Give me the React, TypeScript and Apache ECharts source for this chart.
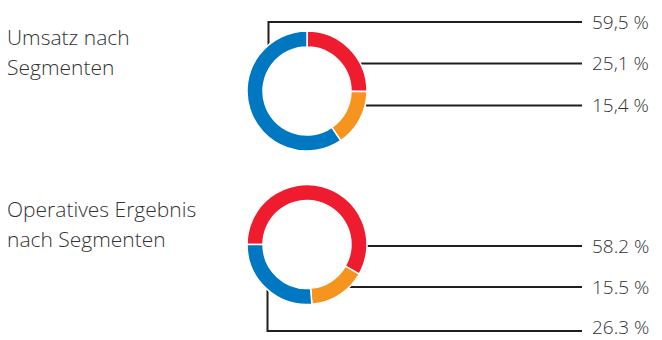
import React, { useEffect, useRef } from "react";
import * as echarts from "echarts";

// ---- data ----
const segmentNames = ["Segment 1", "Segment 2", "Segment 3"];
const segmentColors = ["#EE1C2E", "#F7941D", "#0077C1"];
const umsatzValues = [25.1, 15.4, 59.5];
const ergebnisValues = [58.2, 15.5, 26.3];
const chartTitles = ["Umsatz nach\nSegmenten", "Operatives Ergebnis\nnach Segmenten"];

// ---- layout ----
const CX = 307;
const CENTERS_Y = [91, 244.5];
const R_IN = 44;
const R_OUT = 60;
const LINE_END_X = 582;
const LABEL_X = 592;
const TEXT_COLOR = "#333333";
const FONT = "'Open Sans', 'DejaVu Sans', sans-serif";

// label line y levels per series / data index, and elbow x for lines leaving the left side
const guideY = [
  [63.5, 105.5, 22],
  [246, 287, 331],
];
const guideElbowX = [
  [null, null, 268.5],
  [null, null, 267.5],
];

function guidePoints(si: number, di: number): number[][] {
  const cy = CENTERS_Y[si];
  const y = guideY[si][di];
  const ex = guideElbowX[si][di];
  if (ex != null) {
    const dx = ex - CX;
    const dyAbs = Math.sqrt(Math.max(0, R_OUT * R_OUT - dx * dx));
    const sy = y < cy ? cy - dyAbs : cy + dyAbs;
    return [
      [ex, sy],
      [ex, y],
      [LINE_END_X, y],
    ];
  }
  const dy = y - cy;
  const sx = CX + Math.sqrt(Math.max(0, R_OUT * R_OUT - dy * dy));
  return [
    [sx, y],
    [(sx + LINE_END_X) / 2, y],
    [LINE_END_X, y],
  ];
}

function buildSeries(values: number[], si: number, startAngle: number, decimalComma: boolean) {
  return {
    type: "pie",
    center: [CX, CENTERS_Y[si]],
    radius: [R_IN, R_OUT],
    startAngle,
    clockwise: true,
    avoidLabelOverlap: false,
    silent: true,
    itemStyle: { borderColor: "#ffffff", borderWidth: 1.5 },
    data: values.map((v, i) => ({
      name: segmentNames[i],
      value: v,
      itemStyle: { color: segmentColors[i] },
    })),
    label: {
      show: true,
      position: "outside",
      formatter: (p: any) => {
        const s = Number(p.value).toFixed(1);
        return (decimalComma ? s.replace(".", ",") : s) + " %";
      },
      fontFamily: FONT,
      fontSize: 19,
      fontWeight: 300,
      lineHeight: 16,
      color: TEXT_COLOR,
    },
    labelLine: {
      show: true,
      length: 10,
      length2: 10,
      smooth: false,
      lineStyle: { color: "#1f1f1f", width: 2 },
    },
    labelLayout: (params: any) => {
      const di = params.dataIndex;
      const pts = guidePoints(si, di);
      const y = Math.min(guideY[si][di] - 0.5, 327);
      return {
        x: LABEL_X,
        y,
        align: "left",
        verticalAlign: "middle",
        labelLinePoints: pts,
      };
    },
  };
}

const titleStyle = {
  fontFamily: FONT,
  fontSize: 21,
  fontWeight: 300,
  color: TEXT_COLOR,
  lineHeight: 30,
};

export default function App() {
  const ref = useRef<HTMLDivElement>(null);
  useEffect(() => {
    if (!ref.current) return;
    const chart = echarts.init(ref.current, undefined, { renderer: "svg" });
    chart.setOption({
      animation: false,
      backgroundColor: "#ffffff",
      title: [
        { text: chartTitles[0], left: 7, top: 21.5, padding: 0, textStyle: titleStyle },
        { text: chartTitles[1], left: 7, top: 193.5, padding: 0, textStyle: titleStyle },
      ],
      series: [
        buildSeries(umsatzValues, 0, 90, true),
        buildSeries(ergebnisValues, 1, 180, false),
      ],
    });
    return () => chart.dispose();
  }, []);
  return (
    <div
      ref={ref}
      style={{ position: "fixed", left: 0, top: 0, width: 662, height: 340, background: "#fff" }}
    />
  );
}
